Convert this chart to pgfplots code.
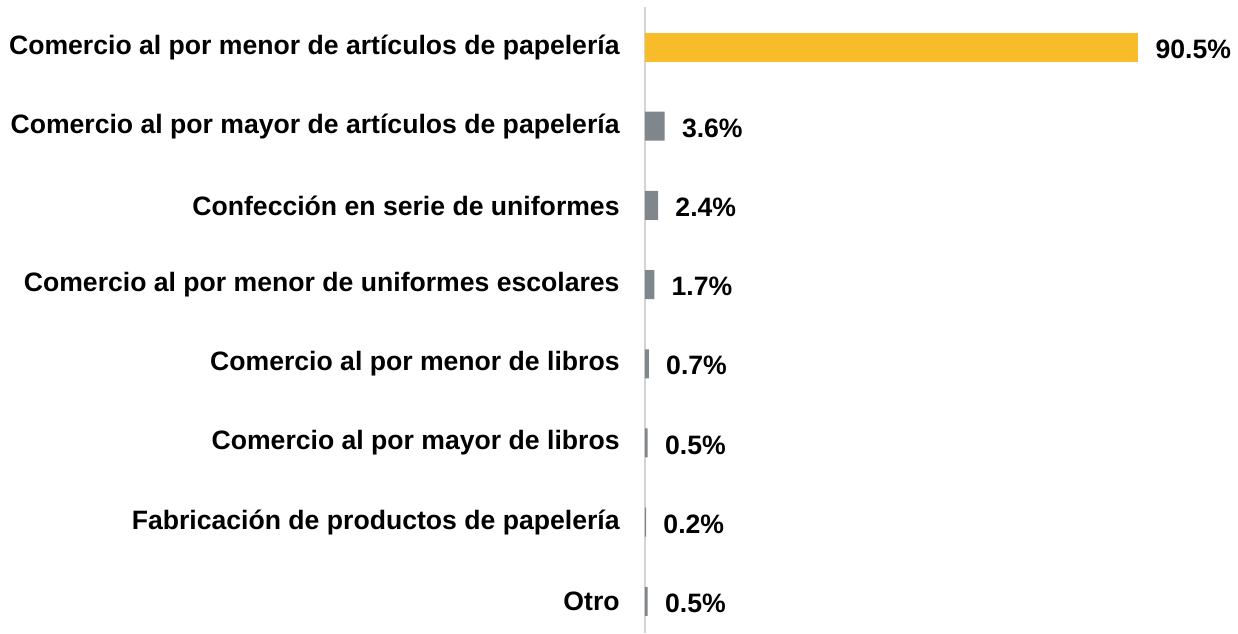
\documentclass[border=0pt]{standalone}
\usepackage{fontspec}
\setmainfont{Liberation Sans}
\usepackage{pgfplots}
\pgfplotsset{compat=1.18}
\definecolor{barY}{RGB}{248,187,42}
\definecolor{barG}{RGB}{127,135,140}
\definecolor{axG}{RGB}{212,212,212}
\begin{document}
\begin{tikzpicture}
\useasboundingbox (0,0) rectangle (619pt,316.5pt);
\begin{axis}[
  at={(322.5pt,0pt)}, anchor=south west,
  scale only axis, width=272.5pt, height=312.8pt,
  xmin=0, xmax=100, ymin=-0.4, ymax=7.5,
  xbar, bar width=14.5pt, bar shift=0pt,
  hide x axis,
  axis y line=left,
  y axis line style={-, draw=axG, line width=0.75pt},
  major tick length=0pt,
  ytick={0,1,2,3,4,5,6,7},
  yticklabels={Otro,
    Fabricación de productos de papelería,
    Comercio al por mayor de libros,
    Comercio al por menor de libros,
    Comercio al por menor de uniformes escolares,
    Confección en serie de uniformes,
    Comercio al por mayor de artículos de papelería,
    Comercio al por menor de artículos de papelería},
  yticklabel style={anchor=east, inner sep=0pt, xshift=-12.5pt, font=\bfseries\fontsize{13.3}{15}\selectfont},
  point meta=explicit symbolic,
  nodes near coords,
  nodes near coords style={anchor=west, inner sep=0pt, xshift=8.5pt, yshift=-1pt, font=\bfseries\fontsize{13.3}{15}\selectfont, text=black},
  clip=false,
]
\addplot[fill=barY, draw=none] coordinates {(90.5,7) [90.5\%]};
\addplot[fill=barG, draw=none] coordinates {
  (3.6,6) [3.6\%]
  (2.4,5) [2.4\%]
  (1.7,4) [1.7\%]
  (0.7,3) [0.7\%]
  (0.5,2) [0.5\%]
  (0.2,1) [0.2\%]
  (0.5,0) [0.5\%]
};
\end{axis}
\end{tikzpicture}
\end{document}
